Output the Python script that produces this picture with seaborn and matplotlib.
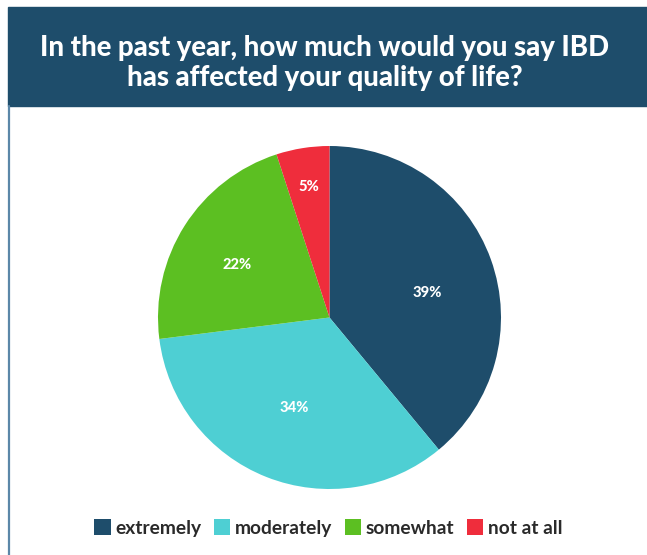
import matplotlib
matplotlib.use("Agg")
import matplotlib.pyplot as plt
import numpy as np
from matplotlib.patches import Rectangle, Patch
from matplotlib.lines import Line2D
import seaborn as sns

categories = ["extremely", "moderately", "somewhat", "not at all"]
shares = [39, 34, 22, 5]
colors = ["#1e4d6b", "#4ecfd3", "#5cbf22", "#ef2d3c"]
title = "In the past year, how much would you say IBD\nhas affected your quality of life?"

# placement of each percentage label: fraction of the radius and angular nudge (deg)
label_radius = [0.59, 0.565, 0.62, 0.77]
label_nudge = [-5.8, 0.0, 2.8, 0.0]

sns.set_theme(style="white")
plt.rcParams["font.family"] = ["Lato", "DejaVu Sans"]

W, H = 647, 555
fig = plt.figure(figsize=(W / 100, H / 100), dpi=100)
fig.patch.set_facecolor("white")

# header banner and left rule
fig.patches.append(Rectangle((8 / W, 1 - 106 / H), 1 - 8 / W, 99 / H,
                             transform=fig.transFigure, color="#1e4d6b", zorder=0))
fig.lines.append(Line2D([9 / W, 9 / W], [0, 1 - 106 / H], transform=fig.transFigure,
                        color="#5b87a8", lw=1.6))
fig.text(325 / W, 1 - 63 / H, title, ha="center", va="center", color="white",
         fontsize=19.8, fontweight="black", linespacing=1.15)

# pie
cx, cy, r = 329.5, 317.5, 171.5
ax = fig.add_axes([(cx - r) / W, 1 - (cy + r) / H, 2 * r / W, 2 * r / H])
wedges, texts = ax.pie(shares, colors=colors, startangle=90, counterclock=False,
                       labels=[f"{v}%" for v in shares], labeldistance=0.6,
                       wedgeprops=dict(linewidth=0))
for w, t, lr, nd in zip(wedges, texts, label_radius, label_nudge):
    mid = np.deg2rad((w.theta1 + w.theta2) / 2 + nd)
    t.set_position((lr * np.cos(mid), lr * np.sin(mid)))
    t.set_color("white")
    t.set_fontweight("black")
    t.set_fontsize(10.6)
    t.set_ha("center")
    t.set_va("center")
ax.set_aspect("equal")
ax.set_xlim(-1, 1)
ax.set_ylim(-1, 1)
ax.axis("off")

handles = [Patch(facecolor=c, edgecolor="none") for c in colors]
fig.legend(handles, categories, loc="center", bbox_to_anchor=(328.5 / W, 1 - 528 / H),
           ncol=4, frameon=False, handlelength=0.85, handleheight=0.85,
           handletextpad=0.25, columnspacing=0.65,
           prop=dict(family="Lato", weight="bold", size=13.8), labelcolor="#2a2a2a")

fig.savefig("out.png", dpi=100)
